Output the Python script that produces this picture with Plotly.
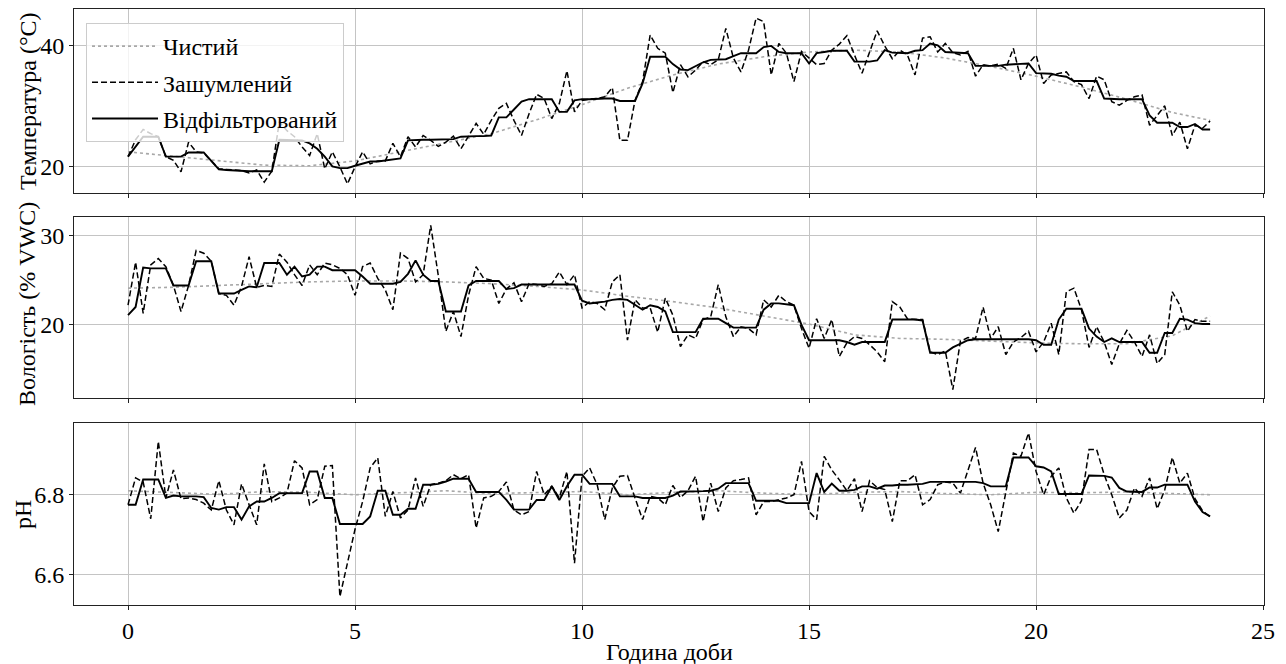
import plotly.graph_objects as go

# ---------------- data ----------------
# 10-minute sampling over one day (144 samples)
hours = [i / 6 for i in range(144)]
# clean reference curves sampled hourly
clean_hours = [0, 1, 2, 3, 4, 5, 6, 7, 8, 9, 10, 11, 12, 13, 14, 15, 16, 17, 18, 19, 20, 21, 22, 23, 23.833]

temp_clean = [22.5, 21.8, 21.0, 20.3, 20.2, 21.0, 22.5, 24.0, 25.5, 27.8, 30.3, 33.0, 35.2, 37.0,
              38.2, 39.0, 39.3, 39.0, 38.0, 36.6, 35.0, 33.2, 31.2, 29.0, 27.7]
temp_noisy = [21.7, 24.5, 26.2, 25.5, 25.0, 21.7, 21.1, 19.2, 24.1, 22.5,
              22.3, 21.0, 19.7, 19.6, 19.5, 19.4, 19.0, 19.5, 17.5, 19.3,
              27.5, 26.0, 25.0, 23.3, 21.9, 25.5, 19.7, 22.5, 20.0, 17.2,
              20.0, 22.5, 20.5, 21.0, 21.0, 23.9, 21.7, 25.0, 23.3, 25.2,
              24.4, 23.4, 24.1, 25.1, 23.0, 25.0, 27.2, 25.4, 27.7, 29.7,
              30.5, 27.7, 25.2, 28.8, 32.0, 31.3, 28.0, 30.5, 35.9, 29.1,
              31.0, 31.2, 31.3, 31.6, 33.1, 24.4, 24.4, 31.0, 34.1, 41.8,
              39.6, 38.8, 32.3, 36.9, 34.9, 36.0, 37.4, 36.9, 37.7, 42.9,
              38.0, 35.7, 39.3, 44.6, 44.0, 35.2, 40.4, 38.8, 34.1, 39.1,
              38.0, 36.9, 37.1, 39.3, 40.3, 41.7, 38.5, 35.5, 39.0, 42.5,
              40.0, 37.9, 39.3, 38.5, 35.2, 41.3, 41.5, 39.0, 40.4, 38.9,
              38.5, 39.1, 35.0, 36.9, 36.7, 37.0, 36.3, 39.6, 34.4, 37.1,
              38.5, 33.8, 35.2, 35.5, 35.7, 34.1, 33.6, 31.3, 35.0, 34.4,
              30.8, 30.2, 31.0, 31.6, 31.9, 26.9, 28.5, 30.1, 25.2, 27.4,
              23.0, 26.9, 26.4, 27.6]
temp_filtered = [21.7, 23.3, 25.0, 25.0, 25.0, 21.7, 21.7, 21.7, 22.4, 22.4,
                 22.4, 21.0, 19.6, 19.5, 19.4, 19.4, 19.3, 19.3, 19.3, 19.3,
                 24.5, 24.5, 24.5, 24.4, 23.9, 23.0, 21.7, 20.1, 19.8, 19.8,
                 20.2, 20.5, 20.9, 20.9, 21.1, 21.3, 21.4, 24.4, 24.5, 24.5,
                 24.5, 24.5, 24.5, 24.6, 25.0, 25.1, 25.1, 25.1, 25.2, 28.2,
                 28.2, 29.5, 30.8, 31.2, 31.2, 31.2, 31.2, 29.1, 29.1, 31.0,
                 31.2, 31.2, 31.3, 31.3, 31.3, 30.9, 30.9, 30.9, 33.8, 38.2,
                 38.2, 38.2, 37.0, 36.1, 36.0, 36.6, 37.3, 37.7, 37.7, 37.8,
                 38.3, 38.8, 38.8, 38.8, 39.8, 40.0, 39.0, 38.8, 38.8, 38.8,
                 37.1, 38.8, 39.0, 39.2, 39.2, 39.2, 37.4, 37.4, 37.4, 37.6,
                 39.3, 38.9, 38.8, 38.8, 39.2, 39.3, 40.4, 40.1, 39.0, 38.9,
                 38.9, 38.8, 36.7, 36.7, 36.7, 36.7, 36.9, 37.0, 37.0, 37.1,
                 35.5, 35.4, 35.4, 35.1, 34.9, 34.2, 34.2, 34.2, 34.2, 31.3,
                 31.2, 31.2, 31.2, 31.2, 31.2, 28.5, 27.3, 27.3, 27.3, 26.6,
                 26.6, 27.1, 26.2, 26.2]

hum_clean = [24.1, 24.2, 24.4, 24.6, 24.8, 24.9, 24.9, 24.8, 24.6, 24.3, 23.9, 23.2, 22.6, 21.9,
             21.0, 20.1, 18.9, 18.5, 18.4, 18.2, 18.0, 17.9, 17.9, 18.8, 21.0]
hum_noisy = [22.2, 27.0, 21.3, 26.7, 27.4, 26.5, 24.4, 21.5, 24.4, 28.3,
             28.0, 27.1, 23.5, 23.3, 22.2, 24.3, 27.6, 24.2, 24.4, 24.3,
             27.9, 27.0, 25.6, 24.4, 26.7, 25.6, 26.9, 26.7, 26.3, 25.6,
             23.3, 26.5, 26.9, 25.2, 23.9, 21.7, 28.0, 27.4, 24.8, 25.6,
             31.1, 25.5, 19.3, 21.5, 18.7, 23.3, 26.5, 25.2, 25.0, 22.4,
             24.0, 24.7, 22.6, 24.6, 24.5, 24.3, 24.6, 25.9, 24.5, 25.6,
             21.9, 22.6, 22.4, 21.7, 24.8, 25.6, 18.3, 22.8, 21.9, 21.9,
             19.2, 23.0, 21.1, 17.6, 18.9, 18.5, 20.6, 20.9, 24.5, 20.9,
             18.7, 19.8, 19.6, 18.9, 22.8, 22.0, 23.3, 22.6, 22.2, 19.6,
             17.4, 20.7, 18.5, 20.6, 16.5, 18.0, 18.7, 18.5, 17.8, 17.0,
             15.9, 22.6, 22.0, 20.7, 20.6, 20.6, 17.0, 16.7, 17.1, 12.8,
             18.2, 18.6, 18.5, 22.0, 18.5, 19.8, 16.7, 18.1, 18.6, 19.3,
             17.0, 18.1, 20.2, 16.7, 23.7, 24.1, 21.7, 17.5, 19.8, 18.1,
             15.6, 17.9, 19.4, 18.1, 16.5, 18.9, 15.7, 16.7, 23.7, 22.2,
             19.3, 20.6, 20.4, 20.4]
hum_filtered = [21.1, 22.0, 26.4, 26.3, 26.3, 26.3, 24.4, 24.4, 24.4, 27.1,
                27.1, 27.1, 23.5, 23.5, 23.5, 23.9, 24.3, 24.2, 26.9, 26.9,
                26.9, 25.6, 26.5, 25.4, 25.6, 26.5, 26.5, 26.1, 26.1, 26.1,
                26.1, 25.4, 24.6, 24.6, 24.6, 24.6, 24.8, 25.7, 27.2, 25.6,
                24.9, 24.9, 21.5, 21.5, 21.5, 24.4, 24.9, 24.9, 24.9, 24.9,
                24.0, 24.1, 24.5, 24.5, 24.5, 24.5, 24.5, 24.5, 24.5, 24.5,
                22.7, 22.4, 22.5, 22.6, 22.8, 22.9, 22.8, 22.2, 21.7, 22.2,
                22.0, 21.5, 19.2, 19.2, 19.2, 19.2, 20.7, 20.7, 20.7, 20.2,
                19.7, 19.7, 19.7, 19.7, 21.7, 22.4, 22.4, 22.3, 22.2, 20.0,
                18.3, 18.3, 18.3, 18.3, 18.3, 18.1, 17.8, 18.1, 18.1, 18.1,
                18.1, 20.6, 20.6, 20.6, 20.6, 20.5, 16.9, 16.9, 16.9, 17.5,
                17.9, 18.3, 18.4, 18.4, 18.4, 18.4, 18.4, 18.4, 18.4, 18.4,
                18.3, 17.8, 17.8, 20.6, 21.8, 21.8, 21.8, 19.6, 18.7, 18.1,
                18.5, 18.1, 18.1, 18.1, 18.1, 16.9, 16.9, 19.1, 19.1, 20.7,
                20.6, 20.2, 20.1, 20.1]

ph_clean = [6.810, 6.806, 6.801, 6.808, 6.806, 6.800, 6.805, 6.810, 6.803, 6.805, 6.808, 6.800,
            6.806, 6.810, 6.804, 6.800, 6.806, 6.808, 6.803, 6.800, 6.806, 6.805, 6.807, 6.803, 6.800]
ph_noisy = [6.775, 6.842, 6.832, 6.740, 6.933, 6.792, 6.862, 6.790, 6.792, 6.788,
            6.779, 6.762, 6.835, 6.762, 6.725, 6.827, 6.775, 6.725, 6.877, 6.783,
            6.792, 6.804, 6.885, 6.867, 6.775, 6.788, 6.871, 6.873, 6.546, 6.634,
            6.714, 6.783, 6.867, 6.892, 6.746, 6.808, 6.742, 6.762, 6.842, 6.771,
            6.825, 6.829, 6.835, 6.850, 6.840, 6.850, 6.717, 6.792, 6.796, 6.808,
            6.832, 6.762, 6.750, 6.758, 6.858, 6.800, 6.821, 6.792, 6.858, 6.629,
            6.846, 6.867, 6.825, 6.738, 6.817, 6.846, 6.848, 6.792, 6.738, 6.796,
            6.792, 6.775, 6.823, 6.793, 6.810, 6.846, 6.733, 6.829, 6.758, 6.817,
            6.835, 6.838, 6.842, 6.750, 6.783, 6.783, 6.788, 6.792, 6.800, 6.883,
            6.758, 6.738, 6.896, 6.862, 6.837, 6.810, 6.840, 6.758, 6.835, 6.818,
            6.813, 6.733, 6.835, 6.835, 6.850, 6.775, 6.788, 6.825, 6.832, 6.829,
            6.804, 6.862, 6.918, 6.829, 6.775, 6.708, 6.808, 6.904, 6.896, 6.954,
            6.858, 6.800, 6.846, 6.867, 6.792, 6.754, 6.785, 6.913, 6.913, 6.850,
            6.800, 6.742, 6.762, 6.817, 6.796, 6.842, 6.765, 6.812, 6.893, 6.829,
            6.854, 6.790, 6.760, 6.745]
ph_filtered = [6.775, 6.775, 6.838, 6.838, 6.838, 6.792, 6.798, 6.796, 6.796, 6.796,
               6.794, 6.767, 6.763, 6.769, 6.769, 6.738, 6.771, 6.783, 6.783, 6.792,
               6.804, 6.804, 6.804, 6.804, 6.858, 6.858, 6.792, 6.792, 6.727, 6.727,
               6.727, 6.727, 6.746, 6.810, 6.810, 6.750, 6.750, 6.765, 6.765, 6.825,
               6.825, 6.827, 6.833, 6.840, 6.840, 6.840, 6.807, 6.807, 6.807, 6.807,
               6.787, 6.763, 6.763, 6.763, 6.787, 6.787, 6.821, 6.787, 6.821, 6.850,
               6.850, 6.827, 6.827, 6.827, 6.827, 6.796, 6.796, 6.796, 6.792, 6.792,
               6.792, 6.792, 6.798, 6.808, 6.808, 6.808, 6.809, 6.810, 6.815, 6.829,
               6.829, 6.829, 6.829, 6.785, 6.785, 6.785, 6.785, 6.779, 6.779, 6.779,
               6.779, 6.854, 6.807, 6.828, 6.810, 6.810, 6.812, 6.821, 6.821, 6.815,
               6.823, 6.823, 6.825, 6.825, 6.826, 6.827, 6.832, 6.832, 6.833, 6.833,
               6.833, 6.833, 6.832, 6.829, 6.821, 6.821, 6.821, 6.893, 6.893, 6.893,
               6.871, 6.868, 6.858, 6.802, 6.802, 6.802, 6.802, 6.848, 6.848, 6.847,
               6.843, 6.817, 6.808, 6.807, 6.807, 6.818, 6.818, 6.825, 6.825, 6.825,
               6.825, 6.783, 6.757, 6.746]

series_names = ["Чистий", "Зашумлений", "Відфільтрований"]
y_titles = ["Температура (°C)", "Вологість (% VWC)", "pH"]
x_title = "Година доби"
x_ticks = [0, 5, 10, 15, 20, 25]
y_ticks = [[20, 40], [20, 30], [6.6, 6.8]]
y_ticktext = [["20", "40"], ["20", "30"], ["6.6", "6.8"]]
y_ranges = [[15.7, 46.1], [11.86, 32.03], [6.525, 6.979]]

# ---------------- figure ----------------
FONT = "Liberation Serif, Times New Roman, serif"
FS = 24
fig = go.Figure()

panels = [(temp_clean, temp_noisy, temp_filtered),
          (hum_clean, hum_noisy, hum_filtered),
          (ph_clean, ph_noisy, ph_filtered)]

for k, (c, n, f) in enumerate(panels):
    xa = "x" if k == 0 else f"x{k+1}"
    ya = "y" if k == 0 else f"y{k+1}"
    show = (k == 0)
    fig.add_trace(go.Scatter(x=clean_hours, y=c, mode="lines", name=series_names[0],
                             line=dict(color="#a8a8a8", width=1.6, dash="dot"),
                             xaxis=xa, yaxis=ya, showlegend=show, legendgroup="c"))
    fig.add_trace(go.Scatter(x=hours, y=n, mode="lines", name=series_names[1],
                             line=dict(color="black", width=1.5, dash="6px,3px"),
                             xaxis=xa, yaxis=ya, showlegend=show, legendgroup="n"))
    fig.add_trace(go.Scatter(x=hours, y=f, mode="lines", name=series_names[2],
                             line=dict(color="black", width=1.9),
                             xaxis=xa, yaxis=ya, showlegend=show, legendgroup="f"))

axis_common = dict(showline=True, mirror=True, linecolor="#222", linewidth=1,
                   ticks="outside", ticklen=4, tickcolor="#222", tickwidth=1,
                   showgrid=True, gridcolor="#c4c4c4", gridwidth=1, zeroline=False,
                   tickfont=dict(family=FONT, size=FS, color="black"))

domains = [[0.6913, 1.0], [0.3473, 0.651], [0.0, 0.3054]]
layout = dict(
    width=1286, height=664,
    margin=dict(l=74, r=22, t=9, b=59),
    paper_bgcolor="white", plot_bgcolor="white",
    font=dict(family=FONT, size=FS, color="black"),
    legend=dict(x=0.0101, y=0.9765, xanchor="left", yanchor="top",
                bgcolor="rgba(255,255,255,0.8)", bordercolor="#cccccc", borderwidth=1,
                font=dict(family=FONT, size=FS, color="black"),
                itemwidth=66, tracegroupgap=2),
)
for k in range(3):
    xs = "xaxis" if k == 0 else f"xaxis{k+1}"
    ys = "yaxis" if k == 0 else f"yaxis{k+1}"
    ya = "y" if k == 0 else f"y{k+1}"
    xa = "x" if k == 0 else f"x{k+1}"
    layout[xs] = dict(axis_common, domain=[0, 1], anchor=ya, range=[-1.19, 25.02],
                      tickvals=x_ticks, showticklabels=(k == 2),
                      **({} if k == 0 else {"matches": "x"}))
    layout[ys] = dict(axis_common, domain=domains[k], anchor=xa, range=y_ranges[k],
                      tickvals=y_ticks[k], ticktext=y_ticktext[k])
fig.update_layout(**layout)

ann_pos = [(-0.0387, 0.8456), (-0.0395, 0.505), (-0.0429, 0.1527)]
for k in range(3):
    fig.add_annotation(text=y_titles[k], xref="paper", yref="paper",
                       x=ann_pos[k][0], y=ann_pos[k][1], textangle=-90,
                       xanchor="center", yanchor="middle", showarrow=False,
                       font=dict(family=FONT, size=FS, color="black"))
fig.add_annotation(text=x_title, xref="paper", yref="paper", x=0.5, y=-0.0789,
                   xanchor="center", yanchor="middle", showarrow=False,
                   font=dict(family=FONT, size=FS, color="black"))

fig.write_html("out.html", config={"displayModeBar": False},
               post_script="document.body.style.margin='0px';")
